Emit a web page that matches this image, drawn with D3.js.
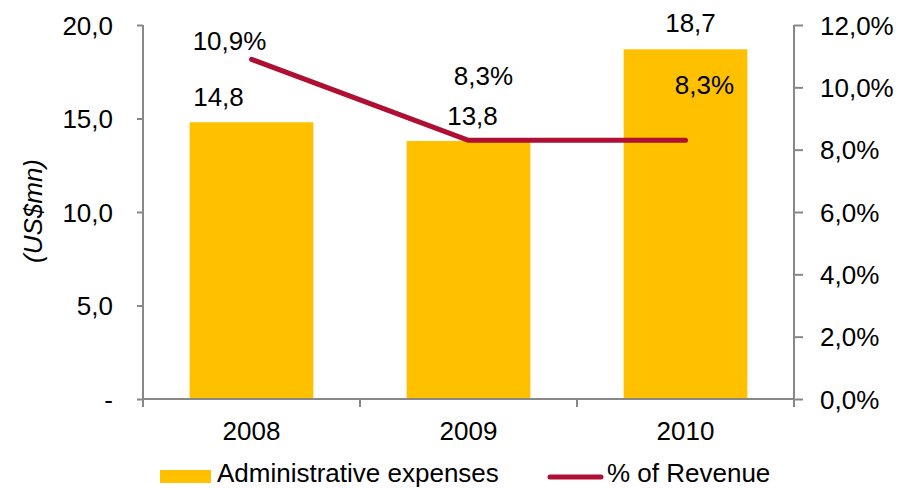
<!DOCTYPE html>
<html><head><meta charset="utf-8">
<script src="https://cdn.jsdelivr.net/npm/d3@7"></script>
<style>body{margin:0;background:#fff}svg{display:block}text{font-family:"Liberation Sans",Arial,sans-serif;fill:#000}</style>
</head><body>
<script>
const years = ["2008", "2009", "2010"];
const adminExpenses = [14.8, 13.8, 18.7];
const pctRevenue = [10.9, 8.3, 8.3];
const leftTicks = [0, 5, 10, 15, 20];
const rightTicks = [0, 2, 4, 6, 8, 10, 12];
// label offsets (layout only)
const barLabelOff = [[-33, -16], [4, -16], [5, -17]];
const lineLabelOff = [[-22, -9], [15, -55], [19, -46]];

const W = 897, H = 488, FS = 26;
const m = {l: 143, r: 794, t: 25, b: 399};
const svg = d3.select("body").append("svg").attr("width", W).attr("height", H);

const x = d3.scaleBand().domain(years).range([m.l, m.r]).paddingInner(0.43).paddingOuter(0.215);
const yL = d3.scaleLinear().domain([0, 20]).range([m.b, m.t]);
const yR = d3.scaleLinear().domain([0, 12]).range([m.b, m.t]);
const fmt1 = v => v.toFixed(1).replace(".", ",");
const axisCol = "#888";

// bars
svg.selectAll("rect.bar").data(years).join("rect").attr("class", "bar")
  .attr("x", d => x(d)).attr("width", x.bandwidth())
  .attr("y", (d, i) => yL(adminExpenses[i]))
  .attr("height", (d, i) => m.b - yL(adminExpenses[i]))
  .attr("fill", "#FFC000");

// left axis
const gL = svg.append("g").attr("transform", `translate(${m.l},0)`)
  .call(d3.axisLeft(yL).tickValues(leftTicks).tickSize(6).tickPadding(24)
    .tickFormat(d => d === 0 ? "-" : fmt1(d)));
// right axis
const gR = svg.append("g").attr("transform", `translate(${m.r},0)`)
  .call(d3.axisRight(yR).tickValues(rightTicks).tickSize(9).tickPadding(17)
    .tickFormat(d => fmt1(d) + "%"));
// bottom axis
const gB = svg.append("g").attr("transform", `translate(0,${m.b})`)
  .call(d3.axisBottom(x).tickSize(0).tickPadding(23));
[gL, gR, gB].forEach(g => {
  g.select(".domain").attr("stroke", axisCol).attr("stroke-width", 2);
  g.selectAll(".tick line").attr("stroke", axisCol).attr("stroke-width", 2);
  g.selectAll(".tick text").attr("font-size", FS).attr("font-family", "Liberation Sans, Arial, sans-serif").attr("fill", "#000");
});
gL.select(".domain").attr("d", `M0,${m.t}V${m.b}`);
gR.select(".domain").attr("d", `M0,${m.t}V${m.b}`);
gB.select(".domain").attr("d", `M${m.l},0H${m.r}`);
gL.selectAll(".tick text").attr("dy", "0.35em");
gR.selectAll(".tick text").attr("dy", "0.35em");
// category boundary ticks
const edges = d3.range(years.length + 1).map(i => m.l + i * x.step());
svg.append("g").selectAll("line").data(edges).join("line")
  .attr("x1", d => d).attr("x2", d => d).attr("y1", m.b).attr("y2", m.b + 8)
  .attr("stroke", axisCol).attr("stroke-width", 2);

// line
const cx = d => x(d) + x.bandwidth() / 2;
const line = d3.line().x((d, i) => cx(years[i])).y(d => yR(d));
svg.append("path").datum(pctRevenue).attr("d", line)
  .attr("fill", "none").attr("stroke", "#AE0F33").attr("stroke-width", 5)
  .attr("stroke-linecap", "round").attr("stroke-linejoin", "round");

// bar labels
svg.selectAll("text.bl").data(years).join("text").attr("class", "bl")
  .attr("x", (d, i) => cx(d) + barLabelOff[i][0])
  .attr("y", (d, i) => yL(adminExpenses[i]) + barLabelOff[i][1])
  .attr("text-anchor", "middle").attr("font-size", FS)
  .text((d, i) => fmt1(adminExpenses[i]));
// line labels
svg.selectAll("text.ll").data(years).join("text").attr("class", "ll")
  .attr("x", (d, i) => cx(d) + lineLabelOff[i][0])
  .attr("y", (d, i) => yR(pctRevenue[i]) + lineLabelOff[i][1])
  .attr("text-anchor", "middle").attr("font-size", FS)
  .text((d, i) => fmt1(pctRevenue[i]) + "%");

// y title
svg.append("text").attr("transform", "translate(42,211) rotate(-90)")
  .attr("text-anchor", "middle").attr("font-size", FS).attr("font-style", "italic")
  .text("(US$mn)");

// legend
const lg = svg.append("g");
lg.append("rect").attr("x", 160).attr("y", 470).attr("width", 51).attr("height", 13).attr("fill", "#FFC000");
lg.append("text").attr("x", 217).attr("y", 482).attr("font-size", FS).text("Administrative expenses");
lg.append("line").attr("x1", 550).attr("x2", 601).attr("y1", 477).attr("y2", 477)
  .attr("stroke", "#AE0F33").attr("stroke-width", 5).attr("stroke-linecap", "round");
lg.append("text").attr("x", 607).attr("y", 482).attr("font-size", FS).text("% of Revenue");
</script>
</body></html>
